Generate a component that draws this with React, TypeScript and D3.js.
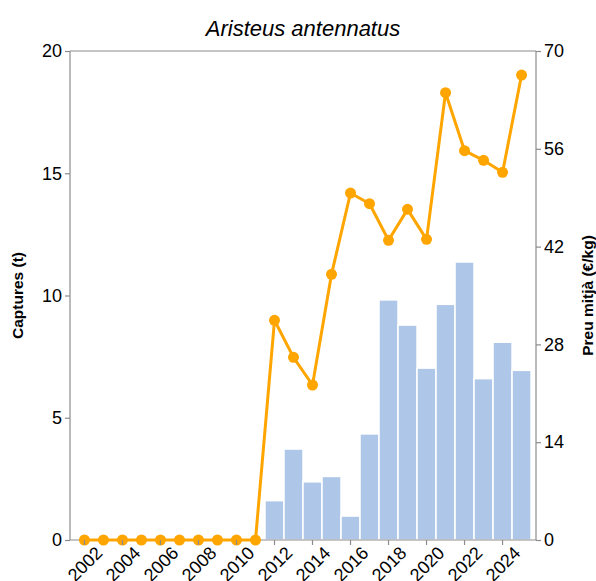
import { useRef, useEffect } from 'react';
import * as d3 from 'd3';

const YEARS = [2002, 2003, 2004, 2005, 2006, 2007, 2008, 2009, 2010, 2011, 2012, 2013, 2014,
  2015, 2016, 2017, 2018, 2019, 2020, 2021, 2022, 2023, 2024, 2025];
const CATCH_T = [0, 0, 0, 0, 0, 0, 0, 0, 0, 0, 1.61, 3.72, 2.38, 2.6, 0.98, 4.34, 9.82, 8.79,
  7.03, 9.64, 11.37, 6.6, 8.09, 6.94];
const PRICE = [0, 0, 0, 0, 0, 0, 0, 0, 0, 0, 31.45, 26.15, 22.19, 38.03, 49.67, 48.14, 42.9,
  47.33, 43.04, 64.03, 55.73, 54.35, 52.63, 66.56];
const LEFT_TICKS = [0, 5, 10, 15, 20];
const RIGHT_TICKS = [0, 14, 28, 42, 56, 70];
const X_TICKS = [2002, 2004, 2006, 2008, 2010, 2012, 2014, 2016, 2018, 2020, 2022, 2024];

const W = 596;
const H = 581;
const PLOT = { left: 70, right: 536, top: 51, bottom: 540 };
const FONT = 'Liberation Sans, Arial, sans-serif';
const AXIS_GREY = '#8c8c8c';

export default function App() {
  const svgRef = useRef<SVGSVGElement>(null);

  useEffect(() => {
    if (!svgRef.current) return;
    const svg = d3.select(svgRef.current);
    svg.selectAll('*').remove();

    const x = d3.scaleBand<number>()
      .domain(YEARS)
      .range([PLOT.left, PLOT.right])
      .paddingInner(0)
      .paddingOuter(0.26);
    const yL = d3.scaleLinear().domain([0, 20]).range([PLOT.bottom, PLOT.top]);
    const yR = d3.scaleLinear().domain([0, 70]).range([PLOT.bottom, PLOT.top]);
    const cx = (yr: number) => (x(yr) ?? 0) + x.bandwidth() / 2;

    // bars
    svg.append('g')
      .selectAll('rect')
      .data(YEARS.map((yr, i) => ({ yr, v: CATCH_T[i] })).filter(d => d.v > 0))
      .enter()
      .append('rect')
      .attr('x', d => x(d.yr) ?? 0)
      .attr('width', x.bandwidth())
      .attr('y', d => yL(d.v))
      .attr('height', d => PLOT.bottom - yL(d.v))
      .attr('fill', '#aec7e8')
      .attr('stroke', '#ffffff')
      .attr('stroke-width', 1.5);

    // frame
    const frame = svg.append('g').attr('stroke', AXIS_GREY).attr('stroke-width', 1.2);
    frame.append('line').attr('x1', PLOT.left).attr('x2', PLOT.right).attr('y1', PLOT.top).attr('y2', PLOT.top);
    frame.append('line').attr('x1', PLOT.left).attr('x2', PLOT.right).attr('y1', PLOT.bottom).attr('y2', PLOT.bottom);
    frame.append('line').attr('x1', PLOT.left).attr('x2', PLOT.left).attr('y1', PLOT.top).attr('y2', PLOT.bottom);
    frame.append('line').attr('x1', PLOT.right).attr('x2', PLOT.right).attr('y1', PLOT.top).attr('y2', PLOT.bottom);

    // price line
    const pts = YEARS.map((yr, i) => ({ yr, v: PRICE[i] }));
    const line = d3.line<{ yr: number; v: number }>().x(d => cx(d.yr)).y(d => yR(d.v));
    svg.append('path')
      .datum(pts)
      .attr('d', line)
      .attr('fill', 'none')
      .attr('stroke', '#ffa500')
      .attr('stroke-width', 3)
      .attr('stroke-linejoin', 'round');
    svg.append('g')
      .selectAll('circle')
      .data(pts)
      .enter()
      .append('circle')
      .attr('cx', d => cx(d.yr))
      .attr('cy', d => yR(d.v))
      .attr('r', 5.5)
      .attr('fill', '#ffa500');

    // left axis
    const leftAxis = svg.append('g')
      .attr('transform', `translate(${PLOT.left},0)`)
      .call(d3.axisLeft(yL).tickValues(LEFT_TICKS).tickSize(5).tickPadding(3));
    // right axis
    const rightAxis = svg.append('g')
      .attr('transform', `translate(${PLOT.right},0)`)
      .call(d3.axisRight(yR).tickValues(RIGHT_TICKS).tickSize(5).tickPadding(3));
    // bottom axis
    const bottomAxis = svg.append('g')
      .attr('transform', `translate(0,${PLOT.bottom})`)
      .call(d3.axisBottom(x).tickValues(X_TICKS).tickSize(5).tickFormat(d => String(d)));
    bottomAxis.selectAll<SVGTextElement, number>('text')
      .attr('transform', 'translate(9,4) rotate(-45)')
      .attr('text-anchor', 'end')
      .attr('dy', '0.35em')
      .attr('y', 8)
      .attr('x', 0);

    [leftAxis, rightAxis, bottomAxis].forEach(a => {
      a.select('.domain').remove();
      a.selectAll('line').attr('stroke', AXIS_GREY).attr('stroke-width', 1.2);
      a.selectAll('text').attr('font-family', FONT).attr('font-size', 18).attr('fill', '#000');
    });

    // titles
    svg.append('text')
      .attr('x', 303)
      .attr('y', 36)
      .attr('text-anchor', 'middle')
      .attr('font-family', FONT)
      .attr('font-style', 'italic')
      .attr('font-size', 22)
      .text('Aristeus antennatus');
    svg.append('text')
      .attr('transform', `translate(23,${(PLOT.top + PLOT.bottom) / 2}) rotate(-90)`)
      .attr('text-anchor', 'middle')
      .attr('font-family', FONT)
      .attr('font-weight', 'bold')
      .attr('font-size', 15.5)
      .text('Captures (t)');
    svg.append('text')
      .attr('transform', `translate(593,${(PLOT.top + PLOT.bottom) / 2}) rotate(-90)`)
      .attr('text-anchor', 'middle')
      .attr('font-family', FONT)
      .attr('font-weight', 'bold')
      .attr('font-size', 15.5)
      .text('Preu mitjà (€/kg)');
  }, []);

  return (
    <svg
      ref={svgRef}
      width={W}
      height={H}
      style={{ position: 'absolute', left: 0, top: 0, background: '#fff' }}
    />
  );
}
